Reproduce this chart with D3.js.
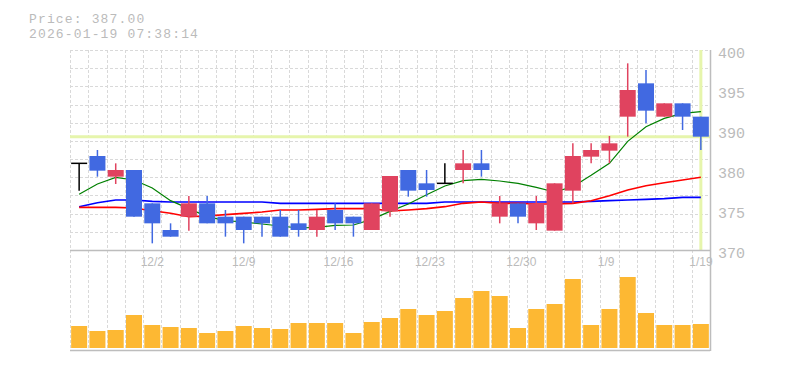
<!DOCTYPE html>
<html>
<head>
<meta charset="utf-8">
<script src="https://cdn.jsdelivr.net/npm/d3@7"></script>
<style>
  html, body { margin: 0; padding: 0; background: #fff; }
  svg { display: block; }
</style>
</head>
<body>
<svg id="chart" width="785" height="370"></svg>
<script>
// ---- data ----
const dates = ["11/26","11/27","11/28","12/1","12/2","12/3","12/4","12/5","12/8","12/9",
  "12/10","12/11","12/12","12/15","12/16","12/17","12/18","12/19","12/22","12/23",
  "12/24","12/25","12/26","12/29","12/30","1/5","1/6","1/7","1/8","1/9",
  "1/13","1/14","1/15","1/16","1/19"];
const openP  = [383,384.1,381,382,377,373,375,377,375,375,375,375,374,373,376,375,373,375.8,382,380,
  380,382,383,375,377,374,372.9,378.9,384,384.9,390,395,390,392,390];
const highP  = [383,385,383,382,377,374,378.1,378.1,376,375,375,376,376,376,377,375,377,381.1,382,382,
  383,385,385,378.1,377,378.1,380,386,386,387.1,398,397,392,392,390];
const lowP   = [378.9,381,379.9,375,371,372,372.9,374,372,371,372,372,372,372,373,372,373,375,378,378,
  380,380,381,374,374,373,372.9,377,383,383,387,389,390,388,385];
const closeP = [383,381.9,382,375,374,372,377,374,374,373,374,372,373,375,374,374,377,381.1,378.9,379,
  380,383,382,377,375,377,380,384.1,385,386,394,390.9,392,390,387];
const maShort = [378.35,379.9,380.9,380.5,379.3,377.4,376.2,375.0,374.4,374.2,373.9,373.6,373.3,373.4,373.7,373.75,374.6,375.8,376.9,378.3,
  379.6,380.4,380.6,380.35,380.0,379.4,378.7,379.5,381.2,383.0,386.3,388.5,389.75,390.5,390.75];
const maMid = [376.4,376.4,376.4,376.3,375.9,375.5,375.0,375.1,375.3,375.5,375.7,376.0,376.0,376.1,376.2,376.2,376.2,375.85,376.0,376.2,
  376.5,377.0,377.2,377.0,377.0,376.9,376.9,377.0,377.4,378.15,379.0,379.65,380.1,380.5,380.9];
const maLong = [376.5,377.1,377.5,377.5,377.3,377.2,377.2,377.2,377.2,377.2,377.2,377.0,377.0,377.0,377.0,377.0,377.0,377.0,377.0,377.0,
  377.2,377.2,377.2,377.2,377.2,377.2,377.2,377.2,377.3,377.4,377.5,377.6,377.7,377.9,377.9];
const volume = [22,17,18,33,23,21,20,15,17,22,20,19,25,25,25,15,26,30,39,33,
  37,50,57,52,20,39,44,69,23,39,71,35,23,23,24];
const xTickDates = ["12/2","12/9","12/16","12/23","12/30","1/9","1/19"];
const yTickValues = [400,394,388,382,376,370];
const yTickLabels = ["400","395","390","380","375","370"];
const currentPrice = 387.00;
const timestamp = "2026-01-19 07:38:14";

// ---- layout ----
const L = 70, R = 710, PT = 50, PB = 250, VB = 348, VBase = 350;
const svg = d3.select("#chart");
const x = d3.scaleBand().domain(dates).range([L, R]).paddingInner(0.125).paddingOuter(0.0625);
const step = x.step();
const cx = d => x(d) + x.bandwidth() / 2;
const y = d3.scaleLinear().domain([370, 400]).range([PB, PT]);
const yv = d3.scaleLinear().domain([0, 100]).range([VB, VB - 100]);

const UP = "#e0435f", DOWN = "#4169e1", GRID = "#d9d9d9", AXIS = "#bdbdbd", TXT = "#bbbbbb";

// grid
const g = svg.append("g");
const gridVals = d3.range(0, 11).map(k => 370 + (k + 1) * 30 / 11);
g.selectAll("line.h").data(gridVals).join("line")
  .attr("x1", L).attr("x2", R)
  .attr("y1", d => Math.round(y(d)) + 0.5).attr("y2", d => Math.round(y(d)) + 0.5)
  .attr("stroke", GRID).attr("stroke-dasharray", "3,2");
const vBounds = dates.map(d => x(d) - step * 0.0625);
g.selectAll("line.v").data(vBounds).join("line")
  .attr("x1", d => Math.round(d) + 0.5).attr("x2", d => Math.round(d) + 0.5)
  .attr("y1", PT).attr("y2", VBase)
  .attr("stroke", GRID).attr("stroke-dasharray", "3,2");

// current price lines
svg.append("line").attr("x1", L).attr("x2", R)
  .attr("y1", y(currentPrice)).attr("y2", y(currentPrice))
  .attr("stroke", "#e6f5ac").attr("stroke-width", 3);
svg.append("line").attr("x1", cx(dates[dates.length-1])).attr("x2", cx(dates[dates.length-1]))
  .attr("y1", PT).attr("y2", PB)
  .attr("stroke", "#e6f5ac").attr("stroke-width", 3);

// axes lines
svg.append("line").attr("x1", L).attr("x2", R).attr("y1", PB + 0.5).attr("y2", PB + 0.5)
  .attr("stroke", AXIS).attr("stroke-width", 1.5);
svg.append("line").attr("x1", L).attr("x2", R).attr("y1", VBase + 0.5).attr("y2", VBase + 0.5)
  .attr("stroke", AXIS).attr("stroke-width", 1.5);
svg.append("line").attr("x1", R + 0.5).attr("x2", R + 0.5).attr("y1", PT).attr("y2", VBase + 1)
  .attr("stroke", AXIS).attr("stroke-width", 1.5);

// moving averages
const mkLine = arr => d3.line().x((d, i) => cx(dates[i])).y(d => y(d))(arr);
[[maLong, "#0000ff", 1.6], [maMid, "#ff0000", 1.6], [maShort, "#008000", 1.2]].forEach(([arr, col, w]) => {
  svg.append("path").attr("d", mkLine(arr)).attr("fill", "none")
    .attr("stroke", col).attr("stroke-width", w);
});

// candles
const cdata = dates.map((d, i) => ({d, o: openP[i], h: highP[i], l: lowP[i], c: closeP[i]}));
const colr = k => k.c > k.o ? UP : (k.c < k.o ? DOWN : "#000");
const cg = svg.append("g");
cg.selectAll("line.wick").data(cdata).join("line")
  .attr("x1", k => cx(k.d)).attr("x2", k => cx(k.d))
  .attr("y1", k => y(k.h)).attr("y2", k => y(k.l))
  .attr("stroke", colr).attr("stroke-width", 1.5);
cg.selectAll("rect.body").data(cdata.filter(k => k.c !== k.o)).join("rect")
  .attr("x", k => x(k.d)).attr("width", x.bandwidth())
  .attr("y", k => y(Math.max(k.o, k.c)))
  .attr("height", k => Math.max(1, Math.abs(y(k.o) - y(k.c))))
  .attr("fill", colr);
cg.selectAll("line.doji").data(cdata.filter(k => k.c === k.o)).join("line")
  .attr("x1", k => x(k.d)).attr("x2", k => x(k.d) + x.bandwidth())
  .attr("y1", k => y(k.c)).attr("y2", k => y(k.c))
  .attr("stroke", "#000").attr("stroke-width", 1.5);

// volume
svg.append("g").selectAll("rect").data(volume).join("rect")
  .attr("x", (v, i) => x(dates[i])).attr("width", x.bandwidth())
  .attr("y", v => yv(v)).attr("height", v => VB - yv(v))
  .attr("fill", "#fdb833");

// y labels
svg.append("g").selectAll("text").data(yTickValues).join("text")
  .attr("x", 718).attr("y", v => y(v) + 8)
  .attr("font-family", "Liberation Mono, monospace").attr("font-size", 15)
  .attr("fill", TXT).text((v, i) => yTickLabels[i]);

// x labels
svg.append("g").selectAll("text").data(xTickDates).join("text")
  .attr("x", d => x(d) - step * 0.0625 - 2.5).attr("y", 266)
  .attr("font-family", "Liberation Sans, Arial, sans-serif").attr("font-size", 12)
  .attr("fill", TXT).text(d => d);

// header
svg.append("text").attr("x", 29).attr("y", 22.5)
  .attr("font-family", "Liberation Mono, monospace").attr("font-size", 13)
  .attr("letter-spacing", 1.15).attr("fill", TXT)
  .text("Price: " + currentPrice.toFixed(2));
svg.append("text").attr("x", 29).attr("y", 37.5)
  .attr("font-family", "Liberation Mono, monospace").attr("font-size", 13)
  .attr("letter-spacing", 1.15).attr("fill", TXT)
  .text(timestamp);
</script>
</body>
</html>
